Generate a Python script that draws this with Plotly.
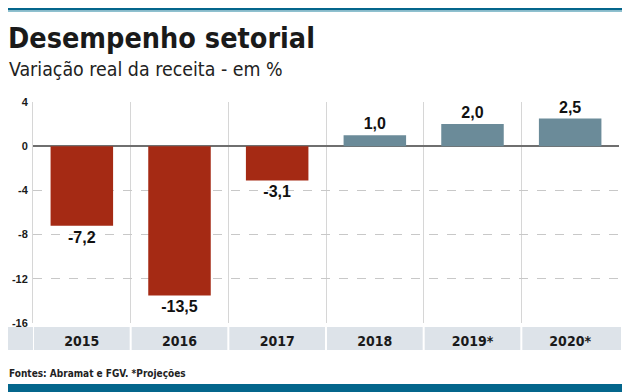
import plotly.graph_objects as go

categories = ["2015", "2016", "2017", "2018", "2019*", "2020*"]
values = [-7.2, -13.5, -3.1, 1.0, 2.0, 2.5]
colors_neg = "#a52a14"
colors_pos = "#6b8b99"
ytick_vals = [4, 0, -4, -8, -12, -16]

# page body has an 8px default margin; work in reference pixel coords
OX, OY = 8, 8
W, H = 631 - OX, 392 - OY
L_PLOT, R_PLOT, T_PLOT, B_PLOT = 33, 619, 102, 323
ML = L_PLOT - OX
MR = (W + OX) - R_PLOT
MT = T_PLOT - OY
MB = (H + OY) - B_PLOT
pw = W - ML - MR
ph = H - MT - MB

def px_x(x):
    return (x - OX - ML) / pw

def px_y(y):
    return (H - MB - (y - OY)) / ph

COND = "DejaVu Sans Condensed, Liberation Sans Narrow, Roboto Condensed, sans-serif"

labels = [f"{v:.1f}".replace(".", ",") for v in values]
bar_colors = [colors_neg if v < 0 else colors_pos for v in values]

fig = go.Figure()
fig.add_trace(go.Bar(
    x=categories, y=values, marker_color=bar_colors, marker_line_width=0,
    width=0.64, text=labels, textposition="outside", cliponaxis=False,
    textfont=dict(family="Liberation Sans", size=16, color="#111111", weight="bold"),
))

shapes = []
shapes.append(dict(type="rect", xref="paper", yref="paper",
                   x0=px_x(7), x1=px_x(621), y0=px_y(350), y1=px_y(327),
                   fillcolor="#dde3e9", line_width=0, layer="below"))
for i in range(len(categories)):
    shapes.append(dict(type="line", xref="x", yref="paper",
                       x0=i - 0.5, x1=i - 0.5, y0=px_y(350), y1=px_y(327),
                       line=dict(color="white", width=2)))
shapes.append(dict(type="rect", xref="paper", yref="paper",
                   x0=px_x(7), x1=px_x(622), y0=px_y(8), y1=px_y(10.5),
                   fillcolor="#04668c", line_width=0))
shapes.append(dict(type="rect", xref="paper", yref="paper",
                   x0=px_x(7), x1=px_x(622), y0=px_y(10.5), y1=px_y(12),
                   fillcolor="#8fc1cf", line_width=0))
shapes.append(dict(type="rect", xref="paper", yref="paper",
                   x0=px_x(7), x1=px_x(622), y0=px_y(384), y1=px_y(392),
                   fillcolor="#04668c", line_width=0))

annotations = [
    dict(text="<b>Desempenho setorial</b>", xref="paper", yref="paper",
         x=px_x(6), y=px_y(39), xanchor="left", yanchor="middle", showarrow=False,
         font=dict(family=COND, size=28.5, color="#1a1a1a")),
    dict(text="Variação real da receita - em %", xref="paper", yref="paper",
         x=px_x(7), y=px_y(69), xanchor="left", yanchor="middle", showarrow=False,
         font=dict(family=COND, size=19.4, color="#222222")),
    dict(text="Fontes: Abramat e FGV. *Projeções", xref="paper", yref="paper",
         x=px_x(7), y=px_y(373), xanchor="left", yanchor="middle", showarrow=False,
         font=dict(family=COND, size=10, color="#222222", weight="bold")),
]

fig.update_layout(
    width=W, height=H, margin=dict(l=ML, r=MR, t=MT, b=MB),
    paper_bgcolor="white", plot_bgcolor="white",
    showlegend=False, shapes=shapes, annotations=annotations,
    xaxis=dict(type="category", tickson="boundaries", showgrid=True,
               gridcolor="#d6d6d6", gridwidth=1, ticks="", showline=False,
               tickfont=dict(family=COND, size=14, color="#1a1a1a", weight="bold"),
               ticklabelstandoff=8, range=[-0.5, 5.5]),
    yaxis=dict(range=[-16, 4], tickvals=ytick_vals, ticktext=[str(v) for v in ytick_vals],
               showgrid=True, gridcolor="#c8c8c8", griddash="dash", gridwidth=1,
               zeroline=True, zerolinecolor="#6f6f6f", zerolinewidth=2,
               showline=True, linecolor="#d6d6d6", linewidth=1, ticks="",
               tickfont=dict(family="Liberation Sans", size=11, color="#1a1a1a", weight="bold"),
               ticklabelstandoff=2, automargin=False),
)

fig.write_html("out.html")
